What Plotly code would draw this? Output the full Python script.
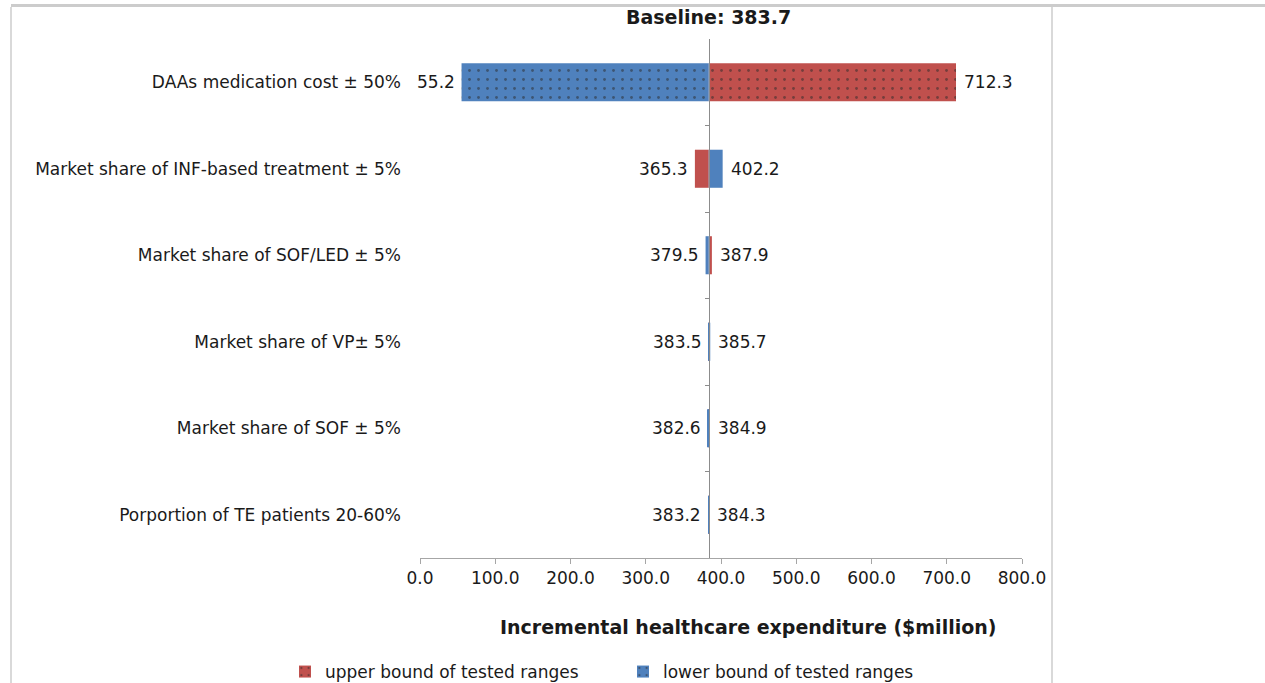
import plotly.graph_objects as go

# ---------------- data ----------------
baseline = 383.7
categories = [
    "DAAs medication cost ± 50%",
    "Market share of INF-based treatment ± 5%",
    "Market share of SOF/LED ± 5%",
    "Market share of VP± 5%",
    "Market share of SOF ± 5%",
    "Porportion of TE patients 20-60%",
]
upper_bound = [712.3, 365.3, 387.9, 383.5, 384.9, 384.3]
lower_bound = [55.2, 402.2, 379.5, 385.7, 382.6, 383.2]
x_ticks = [0, 100, 200, 300, 400, 500, 600, 700, 800]

RED = "#C0504D"
BLUE = "#4F81BD"
FONT = "DejaVu Sans"
TXT = "#1a1a1a"
FS = 17

W, H = 1265, 683
ML, MR, MT, MB = 420, 243, 39, 125
PW, PH = W - ML - MR, H - MT - MB


def px_x(px):
    return (px - ML) / PW


def px_y(py):
    return (H - MB - py) / PH


fig = go.Figure()

pattern = dict(shape=[".", "", "", "", "", ""], fgcolor="#2a2a2a", size=9,
               solidity=0.08, fillmode="overlay")

fig.add_trace(go.Bar(
    y=categories, x=[v - baseline for v in upper_bound], base=baseline,
    orientation="h", name="upper bound of tested ranges",
    marker=dict(color=RED, line=dict(width=0), pattern=pattern), width=0.44,
))
fig.add_trace(go.Bar(
    y=categories, x=[v - baseline for v in lower_bound], base=baseline,
    orientation="h", name="lower bound of tested ranges",
    marker=dict(color=BLUE, line=dict(width=0), pattern=pattern), width=0.44,
))
# dummy trace so the baseline axis (yaxis2) is drawn
fig.add_trace(go.Scatter(x=[baseline], y=[categories[0]], yaxis="y2",
                         mode="markers", marker=dict(opacity=0),
                         showlegend=False, hoverinfo="skip"))

annotations = []
for cat, u, l in zip(categories, upper_bound, lower_bound):
    lo, hi = min(u, l), max(u, l)
    annotations.append(dict(x=lo, y=cat, xref="x", yref="y", text=f"{lo:.1f}",
                            showarrow=False, xanchor="right", xshift=-5,
                            font=dict(family=FONT, size=FS, color=TXT)))
    annotations.append(dict(x=hi, y=cat, xref="x", yref="y", text=f"{hi:.1f}",
                            showarrow=False, xanchor="left", xshift=6,
                            font=dict(family=FONT, size=FS, color=TXT)))

annotations.append(dict(x=baseline, y=px_y(17), xref="x", yref="paper",
                        text=f"<b>Baseline: {baseline:.1f}</b>", showarrow=False,
                        xanchor="center", yanchor="middle",
                        font=dict(family=FONT, size=19, color=TXT)))
annotations.append(dict(x=px_x(748), y=px_y(627), xref="paper", yref="paper",
                        text="<b>Incremental healthcare expenditure ($million)</b>",
                        showarrow=False, xanchor="center", yanchor="middle",
                        font=dict(family=FONT, size=19, color=TXT)))

shapes = [
    # page frame
    dict(type="rect", xref="paper", yref="paper", x0=px_x(11), x1=px_x(W + 5),
         y0=px_y(7), y1=px_y(4), fillcolor="#cccccc", line=dict(width=0), layer="above"),
    dict(type="line", xref="paper", yref="paper", x0=px_x(11), x1=px_x(11),
         y0=px_y(7), y1=px_y(H + 5), line=dict(color="#d9d9d9", width=2)),
    dict(type="line", xref="paper", yref="paper", x0=px_x(1052), x1=px_x(1052),
         y0=px_y(7), y1=px_y(H + 5), line=dict(color="#d9d9d9", width=2)),
]

fig.update_layout(
    width=W, height=H,
    margin=dict(l=ML, r=MR, t=MT, b=MB, autoexpand=False),
    paper_bgcolor="white", plot_bgcolor="white",
    barmode="overlay",
    font=dict(family=FONT, size=FS, color=TXT),
    xaxis=dict(range=[0, 800], tickvals=x_ticks, tickformat=".1f",
               showgrid=False, zeroline=False, showline=True,
               linecolor="#a6a6a6", linewidth=1, ticks="outside",
               ticklen=5, tickcolor="#a6a6a6",
               tickfont=dict(family=FONT, size=FS, color=TXT)),
    yaxis=dict(categoryorder="array", categoryarray=categories,
               range=[5.5, -0.5], showgrid=False, zeroline=False,
               showline=False, ticks="", ticklabelstandoff=18,
               tickfont=dict(family=FONT, size=FS, color=TXT)),
    yaxis2=dict(overlaying="y", anchor="free", side="left",
                position=baseline / 800,
                range=[5.5, -0.5], tickvals=[0.5, 1.5, 2.5, 3.5, 4.5],
                showticklabels=False, ticks="outside", ticklen=4,
                tickcolor="#8c8c8c", showline=True, linecolor="#8c8c8c",
                linewidth=1, showgrid=False, zeroline=False),
    legend=dict(orientation="h", x=px_x(285), y=px_y(672), xanchor="left",
                yanchor="middle", entrywidth=293, entrywidthmode="pixels",
                font=dict(family=FONT, size=FS, color=TXT),
                bgcolor="rgba(0,0,0,0)", tracegroupgap=0),
    annotations=annotations,
    shapes=shapes,
    showlegend=True,
)

fig.write_html("out.html", config={"displayModeBar": False},
               post_script="document.body.style.margin='0';")
